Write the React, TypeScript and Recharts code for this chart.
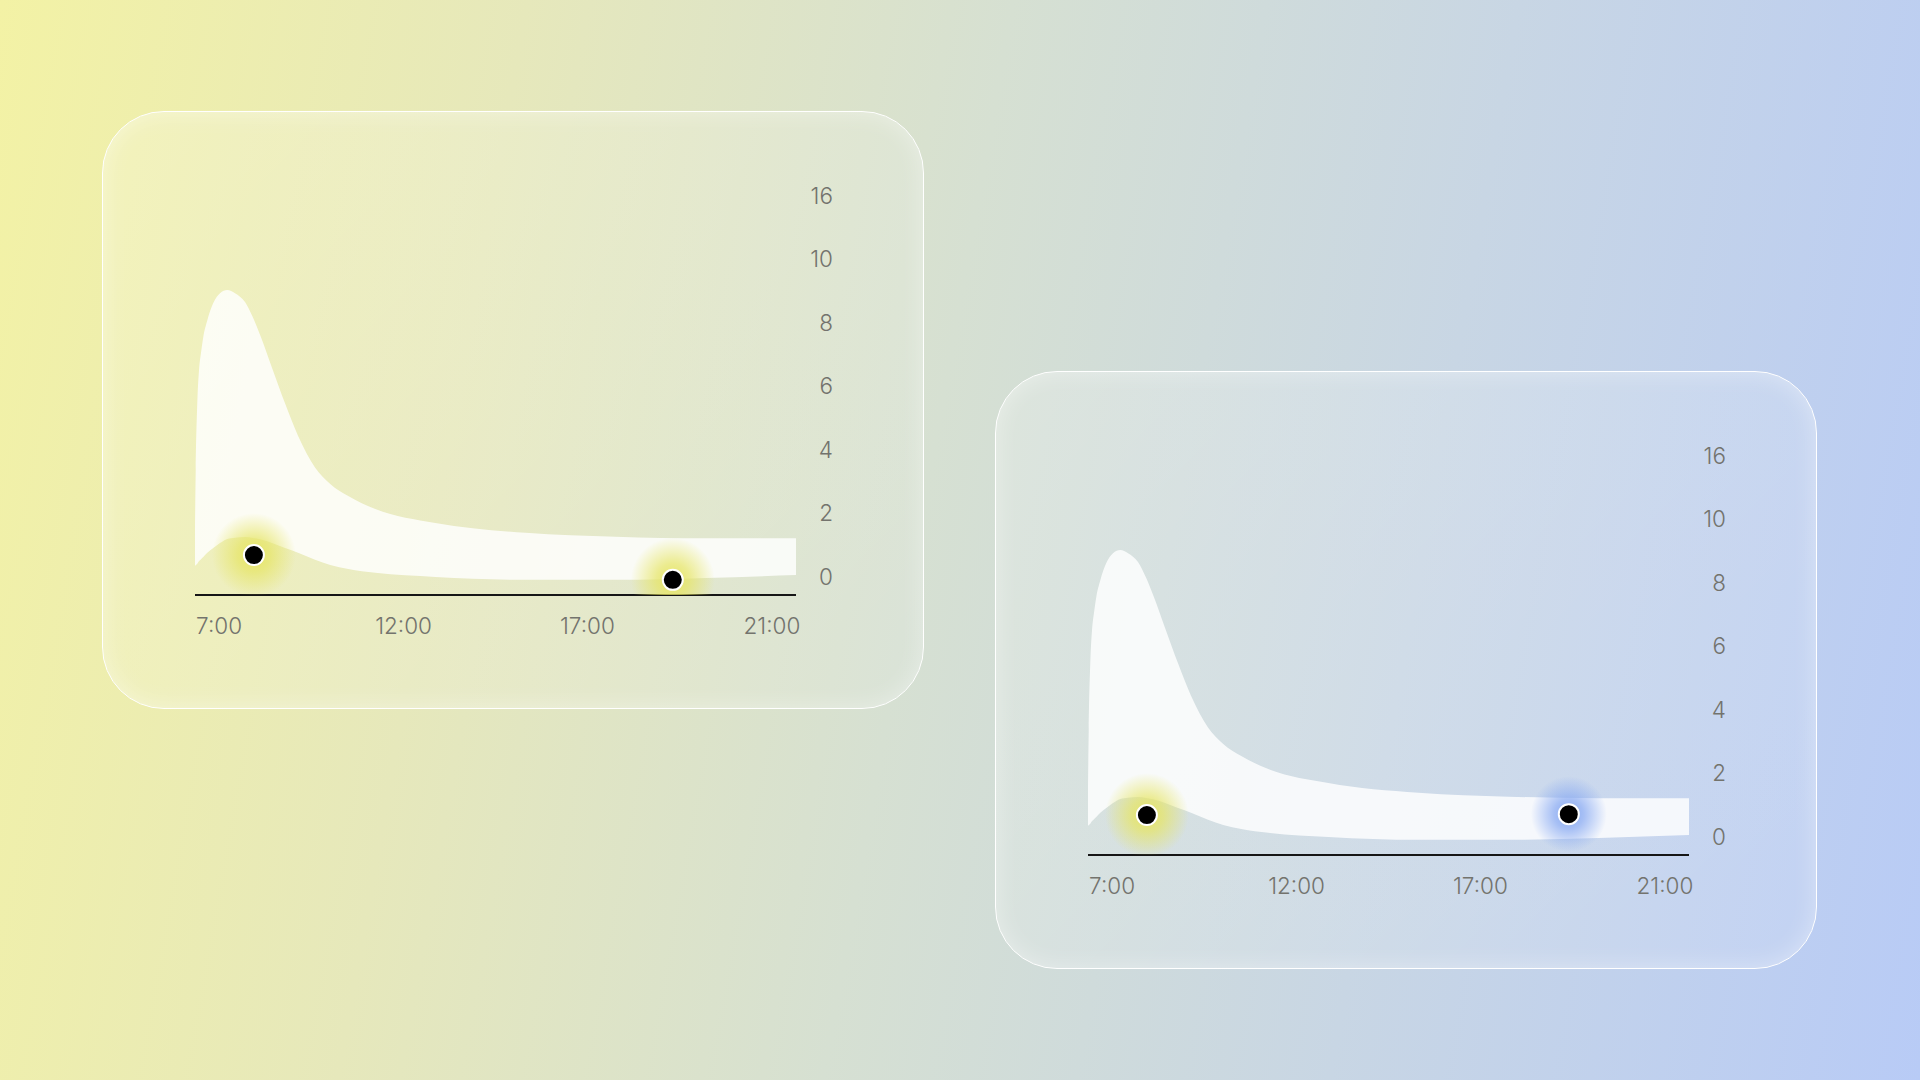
import React from 'react';
import { ComposedChart, Area, Scatter, XAxis, YAxis } from 'recharts';

// Position along the time axis (0..100) at which samples were read
const tValues = [0, 0.12, 0.38, 0.67, 1.0, 1.38, 2.05, 3.04, 4.16, 5.37, 6.66, 8.32, 9.65, 10.98, 12.81, 14.98, 17.14, 19.97, 22.5, 25.5, 30, 40, 55, 70, 85, 100];
// Upper and lower edge of the band (axis units)
const upperValues = [1.6, 3.37, 5.48, 6.52, 7.06, 7.56, 8.09, 8.63, 8.94, 9.04, 8.94, 8.66, 8.17, 7.55, 6.59, 5.47, 4.45, 3.45, 2.93, 2.55, 2.14, 1.7, 1.39, 1.27, 1.22, 1.22];
const lowerValues = [0.35, 0.38, 0.42, 0.5, 0.56, 0.63, 0.76, 0.91, 1.07, 1.2, 1.24, 1.26, 1.23, 1.18, 1.07, 0.91, 0.76, 0.54, 0.38, 0.25, 0.13, 0.0, -0.09, -0.09, -0.03, 0.06];

// Tick labels
const xTickLabels = ['7:00', '12:00', '17:00', '21:00'];
const xTickPositions = [4, 34.7, 65.3, 96];
const yTickLabels = ['0', '2', '4', '6', '8', '10', '16'];
const yTickPositions = [0, 2, 4, 6, 8, 10, 12];

// Marker points per chart
const chart1Points = [
  { t: 9.8, v: 0.69 },
  { t: 79.5, v: -0.09 },
];
const chart2Points = [
  { t: 9.8, v: 0.69 },
  { t: 80, v: 0.72 },
];

const bandData = tValues.map((t, i) => ({ t, low: lowerValues[i], high: upperValues[i] }));

const YELLOW = '#e6e565';
const BLUE = '#86a8f2';

const FONT = 'Inter, "Noto Sans", sans-serif';
const TEXT = '#73736d';

const XTick = (props: any) => {
  const { x, y, payload } = props;
  const idx = xTickPositions.indexOf(payload.value);
  return (
    <text x={x} y={y + 8} textAnchor="middle" fontSize={22.5} fontFamily={FONT} fontWeight={300} fill={TEXT}>
      {xTickLabels[idx]}
    </text>
  );
};

const YTick = (props: any) => {
  const { x, y, payload } = props;
  const idx = yTickPositions.indexOf(payload.value);
  return (
    <text x={x} y={y + 8} textAnchor="end" fontSize={22.5} fontFamily={FONT} fontWeight={300} fill={TEXT}>
      {yTickLabels[idx]}
    </text>
  );
};

const makeDot = (color: string, gid: string, glowR: number) => (props: any) => {
  const { cx, cy } = props;
  if (cx == null || cy == null) return <g />;
  return (
    <g>
      <defs>
        <radialGradient id={gid}>
          <stop offset="0%" stopColor={color} stopOpacity={1} />
          <stop offset="40%" stopColor={color} stopOpacity={0.7} />
          <stop offset="100%" stopColor={color} stopOpacity={0} />
        </radialGradient>
      </defs>
      <circle cx={cx} cy={cy} r={glowR} fill={`url(#${gid})`} />
      <circle cx={cx} cy={cy} r={10} fill="#000" stroke="#fff" strokeWidth={2} />
    </g>
  );
};

type CardProps = { left: number; top: number; points: { t: number; v: number }[]; glows: string[]; id: string };

const Card = ({ left, top, points, glows, id }: CardProps) => (
  <div
    style={{
      position: 'absolute',
      left,
      top,
      width: 822,
      height: 598,
      boxSizing: 'border-box',
      borderRadius: 62,
      border: '1.5px solid rgba(255,255,255,1)',
      background: 'linear-gradient(135deg, rgba(255,255,255,0.2), rgba(255,255,255,0.1))',
      boxShadow: 'inset 0 0 24px rgba(255,255,255,0.4)',
    }}
  >
    <div style={{ position: 'absolute', left: -1.5, top: -1.5 }}>
      <ComposedChart width={822} height={598} data={bandData} margin={{ top: 85, right: 68, bottom: 74, left: 93 }}>
        <XAxis
          type="number"
          dataKey="t"
          domain={[0, 100]}
          ticks={xTickPositions}
          interval={0}
          tickLine={false}
          tickSize={0}
          tickMargin={31}
          height={40}
          axisLine={{ stroke: '#161616', strokeWidth: 2 }}
          tick={<XTick />}
        />
        <YAxis
          orientation="right"
          type="number"
          domain={[-0.567, 12]}
          allowDataOverflow
          ticks={yTickPositions}
          interval={0}
          tickLine={false}
          tickSize={0}
          tickMargin={37}
          width={60}
          axisLine={false}
          tick={<YTick />}
        />
        <Area
          type="monotone"
          dataKey={(d: any) => [d.low, d.high]}
          stroke="none"
          fill="#ffffff"
          fillOpacity={0.82}
          isAnimationActive={false}
          dot={false}
          activeDot={false}
        />
        {points.map((p, i) => (
          <Scatter
            key={i}
            data={[p]}
            dataKey="v"
            isAnimationActive={false}
            shape={makeDot(glows[i] === 'blue' ? BLUE : YELLOW, `${id}-g${i}`, glows[i] === 'blue' ? 38 : 42)}
          />
        ))}
      </ComposedChart>
    </div>
  </div>
);

export default function App() {
  return (
    <div
      style={{
        position: 'absolute',
        left: 0,
        top: 0,
        width: 1920,
        height: 1080,
        overflow: 'hidden',
        background: 'linear-gradient(100deg, #f3f2a5 0%, #e6e8bb 25%, #d6e0d2 48%, #c8d6e4 72%, #b8cbf6 100%)',
      }}
    >
      <Card left={102} top={111} points={chart1Points} glows={['yellow', 'yellow']} id="c1" />
      <Card left={995} top={371} points={chart2Points} glows={['yellow', 'blue']} id="c2" />
    </div>
  );
}
